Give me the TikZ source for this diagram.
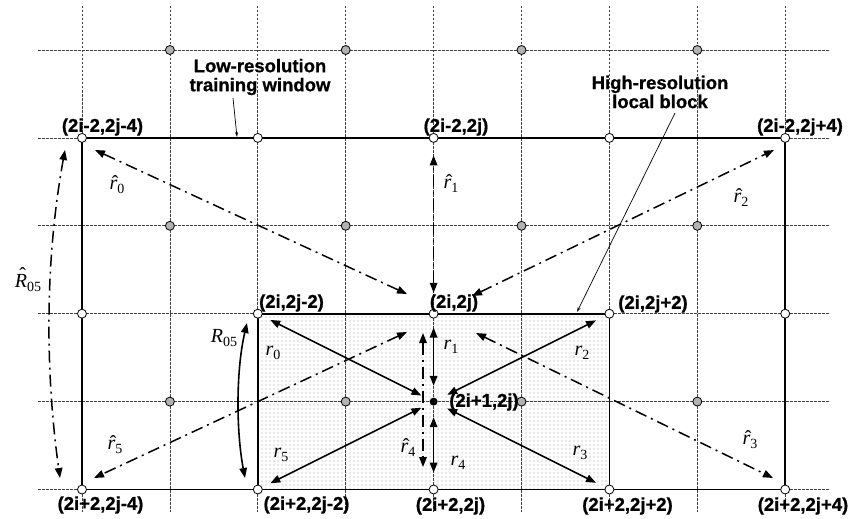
\documentclass[tikz,border=0pt]{standalone}
\usepackage{fontspec}
\usetikzlibrary{arrows.meta,patterns,patterns.meta}
\newfontfamily\labfont[BoldFeatures={FakeBold=0.8}]{Liberation Sans}
\newfontfamily\tmsfont{Liberation Serif}
\newcommand\vsym[2]{\textit{#1}\raisebox{-0.22em}{\fontsize{14}{14}\selectfont #2}}
\newcommand\hsym[3][0pt]{\ooalign{\textit{#2}\cr\hidewidth\kern0.18em\raisebox{#1}{ˆ}\hidewidth\cr}\raisebox{-0.22em}{\fontsize{14}{14}\selectfont #3}}
\pgfdeclarepattern{name=stipple, type=uncolored,
  bottom left={\pgfpoint{-0.1pt}{-0.1pt}}, top right={\pgfpoint{4.1pt}{4.1pt}},
  tile size={\pgfpoint{4pt}{4pt}},
  code={\pgfpathcircle{\pgfpoint{2pt}{2pt}}{0.7pt}\pgfusepath{fill}}}
\begin{document}
\begin{tikzpicture}[x=1pt,y=-1pt,
  gridline/.style={line width=0.7pt,dash pattern=on 2.5pt off 1.5pt,black!75},
  frame/.style={line width=1.8pt},
  wdot/.style={circle,draw,line width=0.8pt,fill=white,inner sep=0pt,minimum size=9pt},
  gdot/.style={circle,draw,line width=0.8pt,fill=gray!60,inner sep=0pt,minimum size=9pt},
  bdot/.style={circle,fill=black,inner sep=0pt,minimum size=8pt},
  tipA/.tip={Triangle[length=10pt,width=7.5pt]},
  sarr/.style={line width=1.6pt,tipA-tipA},
  darr/.style={line width=1.5pt,dash pattern=on 12pt off 5pt on 2pt off 5pt,tipA-tipA},
  leader/.style={line width=0.7pt,-{Stealth[length=5pt,width=3pt]}},
  lab/.style={font=\labfont\bfseries\fontsize{18.5}{20}\selectfont,inner sep=0pt,align=center},
  mlab/.style={font=\tmsfont\fontsize{20}{22}\selectfont,inner sep=0pt}
]
\useasboundingbox (0,0) rectangle (849,519);
% grid points
\foreach \r in {0,...,5}{\foreach \c in {0,...,8}{\coordinate (p\r\c) at ({82+87.9*\c},{50+87.9*\r});}}
% shaded local block
\fill[pattern=stipple,pattern color=gray!75] (p32) rectangle (p56);
% dashed grid
\foreach \c in {0,...,8} \draw[gridline] ({82+87.9*\c},6) -- ({82+87.9*\c},512);
\foreach \r in {0,...,5} \draw[gridline] (38,{50+87.9*\r}) -- (830,{50+87.9*\r});
% frames
\draw[frame] (p10) rectangle (p58);
\draw[frame] (p32) rectangle (p56);
% dots
\foreach \r in {1,3,5}{\foreach \c in {0,2,4,6,8}{\node[wdot] (w\r\c) at (p\r\c) {};}}
\foreach \r in {0,2,4}{\foreach \c in {1,3,5,7}{\node[gdot] (g\r\c) at (p\r\c) {};}}
\node[bdot] (C) at (p44) {};
% solid arrows r
\draw[sarr,shorten <=9.4pt,shorten >=9pt] (C) -- (w32);
\draw[sarr,shorten <=11.6pt,shorten >=9pt] (C) -- (w34);
\draw[sarr,shorten <=11pt,shorten >=10pt] (C) -- (w36);
\draw[sarr,shorten <=11pt,shorten >=10pt] (C) -- (w56);
\draw[sarr,shorten <=11.4pt,shorten >=12pt] (C) -- (w54);
\draw[sarr,shorten <=9.4pt,shorten >=9pt] (C) -- (w52);
% dash-dot arrows r-hat
\coordinate (h0a) at (407,294); \coordinate (h0b) at (95,150);
\coordinate (h2a) at (472,296); \coordinate (h2b) at (774,150);
\coordinate (h3a) at (476,333); \coordinate (h3b) at (773,478);
\coordinate (h4a) at (423,333); \coordinate (h4b) at (423,467);
\coordinate (h5a) at (407,332); \coordinate (h5b) at (94,478);
\draw[darr] (h0a) -- (h0b);
\draw[darr,shorten <=16pt,shorten >=12.6pt] (w34) -- (w14);
\draw[darr] (h2a) -- (h2b);
\draw[darr] (h3a) -- (h3b);
\draw[darr] (h4a) -- (h4b);
\draw[darr] (h5a) -- (h5b);
% arcs
\coordinate (Ra) at (65,150); \coordinate (Rb) at (60,478);
\draw[darr] (Ra) .. controls (45,260) and (45,370) .. (Rb);
\coordinate (ra) at (247,323); \coordinate (rb) at (245,478);
\draw[sarr] (ra) .. controls (236,370) and (236,430) .. (rb);
% leaders
\node[lab] (lowres) at (260,77) {Low-resolution\\[-1pt]training window};
\coordinate (lowtip) at (237,137);
\draw[leader] (233,98) -- (lowtip);
\node[lab] (highres) at (660,92) {High-resolution\\[-1pt]local block};
\coordinate (hightip) at (577,312);
\draw[leader] (675,113) -- (hightip);
% coordinate labels
\node[lab] (t1) at (102.5,127) {(2i-2,2j-4)};
\node[lab] (t2) at (456,127) {(2i-2,2j)};
\node[lab] (t3) at (800,127) {(2i-2,2j+4)};
\node[lab] (m1) at (291.5,303) {(2i,2j-2)};
\node[lab] (m2) at (454,303) {(2i,2j)};
\node[lab] (m3) at (653,304) {(2i,2j+2)};
\node[lab] (c1) at (484,402) {(2i+1,2j)};
\node[lab] (b1) at (100.5,505) {(2i+2,2j-4)};
\node[lab] (b2) at (306.5,505) {(2i+2,2j-2)};
\node[lab] (b3) at (450.5,506) {(2i+2,2j)};
\node[lab] (b4) at (627.5,506) {(2i+2,2j+2)};
\node[lab] (b5) at (803,506) {(2i+2,2j+4)};
% symbol labels
\node[mlab] (lh0) at (117,187) {\hsym{r}{0}};
\node[mlab] (lh1) at (451,186) {\hsym{r}{1}};
\node[mlab] (lh2) at (741,200) {\hsym{r}{2}};
\node[mlab] (lh3) at (750,442) {\hsym{r}{3}};
\node[mlab] (lh4) at (408,450) {\hsym{r}{4}};
\node[mlab] (lh5) at (115,447) {\hsym{r}{5}};
\node[mlab] (lHR) at (28,283) {\hsym[6pt]{R}{05}};
\node[mlab] (lR) at (224,338) {\vsym{R}{05}};
\node[mlab] (l0) at (273,353) {\vsym{r}{0}};
\node[mlab] (l1) at (451,347) {\vsym{r}{1}};
\node[mlab] (l2) at (582,353) {\vsym{r}{2}};
\node[mlab] (l3) at (580,453) {\vsym{r}{3}};
\node[mlab] (l4) at (458,463) {\vsym{r}{4}};
\node[mlab] (l5) at (281,455) {\vsym{r}{5}};
\end{tikzpicture}
\end{document}
